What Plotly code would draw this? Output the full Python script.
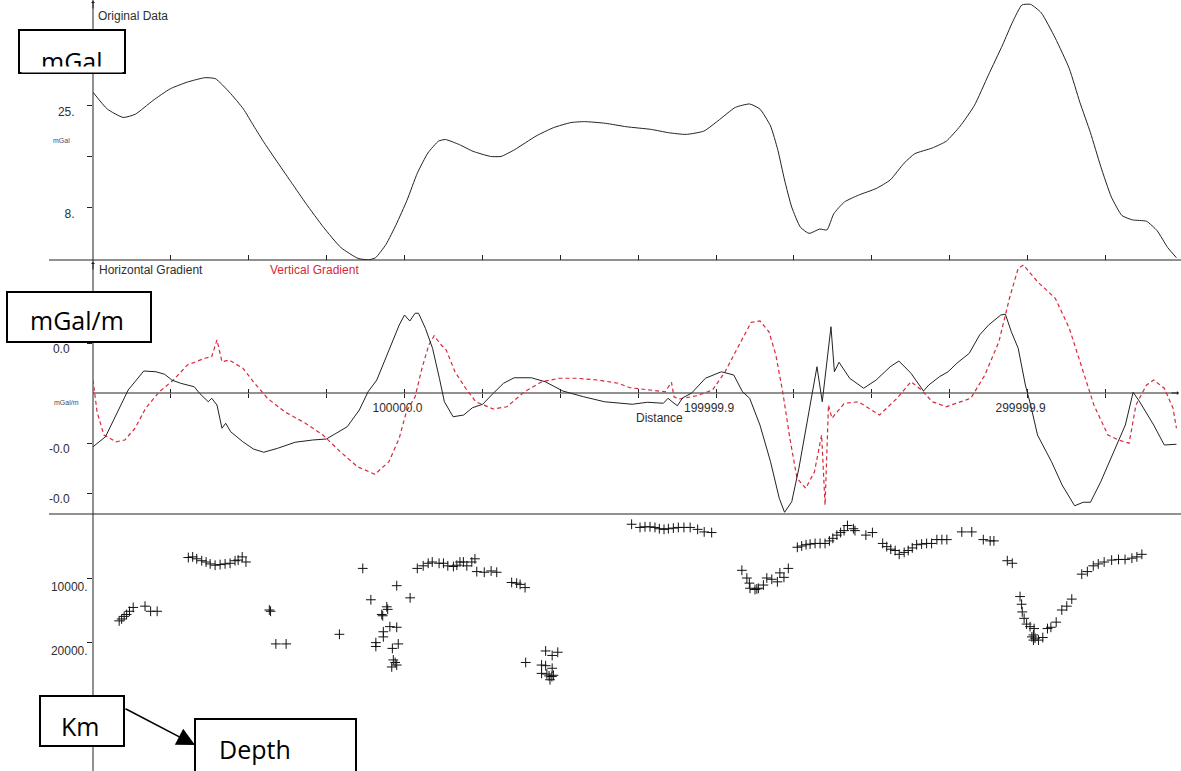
import plotly.graph_objects as go

W, H = 1181, 771

# ---------------- data ----------------
# Original Bouguer profile (mGal) along the line (distance in m)
dist_orig = [0, 4600, 9700, 13600, 19200, 24800, 30300, 35900, 39300, 43800,
             48300, 51600, 55000, 59400, 63900, 68400, 74000, 79600, 85100, 88500,
             90700, 94100, 97400, 100800, 104100, 107500, 110900, 113100, 117600, 122000,
             127600, 131000, 135400, 142200, 147800, 153400, 157800, 164500, 171200, 179200,
             184800, 190400, 196100, 200600, 206200, 210800, 214100, 217500, 219800, 222000,
             224300, 227100, 229900, 233300, 235600, 237800, 241200, 245700, 251400, 255900,
             260400, 263800, 269400, 273900, 278400, 282900, 287400, 292000, 295300, 298200,
             301000, 304400, 308900, 313400, 316800, 320200, 323500, 326900, 330300, 333700,
             338200, 341600, 345000, 347800]
grav_orig = [27.13, 24.32, 22.92, 23.47, 25.73, 27.70, 28.82, 29.55, 29.38, 27.13,
             24.32, 21.50, 18.68, 15.32, 11.93, 8.55, 4.62, 1.23, -0.57, -0.80,
             -0.45, 1.80, 5.17, 9.12, 13.62, 17.00, 18.97, 19.25, 18.40, 17.28,
             16.43, 16.43, 17.57, 19.82, 21.22, 22.07, 22.23, 21.95, 21.38, 20.93,
             20.38, 20.10, 20.65, 22.35, 24.60, 25.17, 24.32, 21.50, 17.57, 12.50,
             7.98, 4.62, 3.60, 4.33, 4.17, 6.87, 8.83, 9.97, 11.08, 12.50,
             15.32, 16.88, 17.83, 18.97, 21.50, 24.88, 29.95, 35.02, 38.95, 41.67,
             41.77, 40.37, 36.15, 31.08, 25.45, 20.38, 14.75, 9.68, 6.58, 5.85,
             5.62, 4.05, 1.23, -0.45]

# Horizontal gradient (mGal/m)
dist_hg = [0, 4000, 7400, 11300, 16300, 20200, 23000, 25300, 28100, 32500,
           34200, 37000, 38100, 39800, 41400, 42600, 44200, 48100, 51500, 54800,
           59300, 64900, 70500, 74900, 77100, 81600, 85500, 88300, 91100, 94400,
           98300, 100000, 101700, 103400, 104500, 106700, 109000, 111200, 112800, 115600,
           119000, 121800, 125100, 128500, 131800, 135200, 140700, 145200, 150800, 157500,
           164200, 173100, 178000, 183100, 184600, 185900, 187600, 189300, 192100, 196600,
           201700, 205700, 208500, 210800, 214100, 217500, 220300, 222000, 224300, 226600,
           230500, 232400, 234100, 236900, 238000, 239500, 242900, 247400, 251400, 255900,
           258700, 262600, 266600, 268300, 271700, 274500, 277300, 281300, 284600, 287500,
           291400, 292900, 294800, 297000, 299300, 301000, 303200, 307700, 311100, 315100,
           317900, 320200, 323500, 328100, 331400, 333900, 336000, 340500, 343900, 347800]
hgrad = [-0.0215, -0.0175, -0.0088, 0.0012, 0.0088, 0.0085, 0.0075, 0.0052, 0.0039, 0.0025,
         -0.0001, -0.0035, -0.0021, -0.0048, -0.0141, -0.0121, -0.0155, -0.0195, -0.0224, -0.0237,
         -0.0221, -0.0197, -0.0188, -0.0184, -0.0168, -0.0135, -0.0068, 0.0005, 0.0052, 0.0152,
         0.0272, 0.0312, 0.0288, 0.0319, 0.0319, 0.0259, 0.0179, 0.0059, -0.0035, -0.0095,
         -0.0088, -0.0059, -0.0045, -0.0001, 0.0039, 0.0061, 0.0061, 0.0045, 0.0008, -0.0015,
         -0.0035, -0.0045, -0.0037, -0.0041, -0.0021, -0.0035, -0.0051, -0.0019, -0.0001, 0.0059,
         0.0085, 0.0072, 0.0005, -0.0021, -0.0128, -0.0275, -0.0421, -0.0477, -0.0435, -0.0301,
         -0.0021, 0.0105, -0.0035, 0.0265, 0.0085, 0.0123, 0.0059, 0.0019, 0.0052, 0.0105,
         0.0128, 0.0079, 0.0008, 0.0032, 0.0065, 0.0085, 0.0119, 0.0159, 0.0232, 0.0272,
         0.0312, 0.0315, 0.0245, 0.0179, 0.0032, -0.0048, -0.0168, -0.0275, -0.0368, -0.0451,
         -0.0437, -0.0437, -0.0355, -0.0221, -0.0128, 0.0003, -0.0035, -0.0128, -0.0208, -0.0205]

# Vertical gradient (mGal/m)
dist_vg = [0, 400, 1300, 3500, 7400, 10200, 13500, 16900, 21300, 25800,
           30300, 35900, 38100, 39800, 41400, 43700, 48100, 51500, 56000, 61500,
           68200, 73800, 79400, 84900, 90500, 95000, 98300, 100600, 103400, 105600,
           107800, 109500, 111800, 113400, 116200, 119600, 122900, 128500, 132900, 138500,
           144100, 149700, 155300, 162000, 168600, 172400, 179200, 183700, 185700, 186500,
           188200, 193800, 198900, 202900, 207400, 211300, 214100, 217000, 219200, 221400,
           223700, 226000, 228800, 231600, 233900, 235000, 236100, 237200, 241200, 245700,
           252500, 258100, 262600, 266000, 269400, 273900, 281800, 286300, 290800, 294200,
           297000, 298700, 303200, 308900, 313400, 317900, 321300, 325800, 329200, 332600,
           334800, 338200, 340500, 343900, 346700, 347800]
vgrad = [0.0052, 0.0005, -0.0075, -0.0168, -0.0195, -0.0188, -0.0141, -0.0061, 0.0005, 0.0052,
         0.0112, 0.0139, 0.0145, 0.0212, 0.0125, 0.0132, 0.0099, 0.0045, -0.0021, -0.0075,
         -0.0121, -0.0168, -0.0235, -0.0295, -0.0325, -0.0275, -0.0181, -0.0075, -0.0015, 0.0099,
         0.0192, 0.0229, 0.0192, 0.0172, 0.0085, 0.0019, -0.0035, -0.0064, -0.0055, 0.0005,
         0.0045, 0.0059, 0.0059, 0.0052, 0.0039, 0.0021, 0.0012, 0.0005, 0.0043, -0.0015,
         -0.0024, -0.0011, 0.0012, 0.0085, 0.0192, 0.0283, 0.0288, 0.0245, 0.0152, 0.0005,
         -0.0181, -0.0341, -0.0381, -0.0315, -0.0168, -0.0448, -0.0048, -0.0101, -0.0041, -0.0035,
         -0.0088, -0.0021, 0.0045, 0.0012, -0.0035, -0.0055, -0.0021, 0.0072, 0.0205, 0.0379,
         0.0499, 0.0512, 0.0445, 0.0379, 0.0259, 0.0085, -0.0048, -0.0168, -0.0188, -0.0201,
         -0.0048, 0.0032, 0.0052, 0.0019, -0.0061, -0.0141]

# Estimated source depths (m) along the profile
dist_src = [8400, 9200, 10000, 10800, 11700, 12900, 16700, 18500, 20600,
            30600, 32000, 33300, 34900, 36300, 37600, 39200, 40800, 42400, 44000, 45600, 46600, 47900, 49100,
            56600, 57000, 58700, 62000, 79100, 86600, 89200, 97500, 94300, 94600, 92700, 93000, 95300,
            97500, 93200, 93200, 90800, 90800, 96100, 98000, 96400, 97000, 95900, 97500, 101800,
            104100, 106000, 107600, 108900, 111100, 112500, 113900, 115700, 116800, 117800, 118900,
            120000, 121600, 122600, 123200, 125600, 127800, 129600, 134400, 136000, 137100, 138700,
            138900, 145300, 147400, 149200, 144000, 145300, 147400, 144000, 145700, 146400, 147300,
            147800, 146700,
            172900, 175600, 177200, 178800, 180400, 181800, 183300, 184700, 186300, 187900, 189700,
            191700, 194100, 196200, 198600,
            208300, 209900, 210700, 210900, 212500, 213100, 213600, 215200, 216300, 217900, 219700,
            220500, 221800, 223200,
            226100, 227500, 228900, 230200, 231800, 233400, 235000, 236400, 237500, 238800, 240000,
            241100, 242200, 244100, 244600, 248100, 250200,
            253500, 254800, 256100, 257500, 258800, 260400, 261700, 263000, 264400, 266000, 267600,
            269200, 270900, 272500, 274100, 278900, 282100, 285800, 288000, 289200, 293500, 295100,
            297600, 298100, 298300, 298900, 299700, 300800, 302100, 301900, 301400, 302400, 301900,
            303500, 304900, 306400, 307500, 309200, 311000, 312600, 314200,
            317400, 319200, 321100, 322700, 324600, 327000, 329200, 331300, 333500, 335100, 336700]
depth_src = [16700, 16400, 16000, 15700, 15200, 14600, 14400, 15200, 15200,
             6800, 6700, 7000, 7300, 7500, 7800, 8000, 7900, 7800, 7700, 7300, 7200, 6700, 7500,
             15000, 15200, 20300, 20300, 18800, 8500, 13400, 11200, 14500, 14900, 15700, 15900, 17600,
             17700, 18400, 19200, 20100, 20700, 21000, 20300, 22800, 23200, 23900, 23600, 13100,
             8500, 8100, 7700, 7500, 7700, 7700, 8100, 8200, 8000, 7500, 7500,
             8100, 7500, 7000, 9000, 9100, 8900, 9100, 10700, 10800, 11000, 11500,
             23200, 21400, 22100, 21600, 23600, 23700, 24100, 24900, 25000, 25300, 25400,
             25200, 25900,
             1600, 2100, 2000, 2000, 2100, 2300, 2400, 2300, 2200, 2100, 2100,
             2100, 2400, 2800, 2900,
             8800, 10000, 10800, 11600, 11800, 11700, 11600, 11100, 10000, 10200, 10600,
             9200, 9900, 8500,
             5200, 5000, 4800, 4700, 4600, 4600, 4600, 4200, 3800, 3300, 2900,
             2600, 1800, 2300, 2600, 3300, 2900,
             4600, 5100, 5500, 5700, 6300, 6000, 5700, 5300, 4800, 4700, 4600,
             4600, 4000, 4000, 4000, 2800, 2800, 4000, 4200, 4200, 7300, 7700,
             12900, 14100, 15300, 16300, 17200, 17600, 17900, 18900, 19200, 19400, 19700,
             19700, 19300, 17900, 17700, 16900, 15000, 14400, 13300,
             9400, 9000, 8100, 7800, 7500, 7200, 7100, 7100, 6900, 6700, 6300]

# axis ticks
dist_ticks = [25000, 50000, 75000, 100000, 125000, 150000, 175000, 200000,
              225000, 250000, 275000, 300000, 325000]
dist_ticktext = ['', '', '', '100000.0', '', '', '', '199999.9',
                 '', '', '', '299999.9', '']
orig_ticks = [8, 16.5, 25]
orig_ticktext = ['8.', '', '25.']
grad_ticks = [0.02, -0.02, -0.04]
grad_ticktext = ['0.0', '-0.0', '-0.0']
depth_ticks = [10000, 20000]
depth_ticktext = ['10000.', '20000.']

assert len(dist_orig) == len(grav_orig)
assert len(dist_hg) == len(hgrad)
assert len(dist_vg) == len(vgrad)
assert len(dist_src) == len(depth_src)

# ---------------- helpers for page placement ----------------
def fx(p):
    return p / W


def fy(p):
    return 1 - p / H


INK = '#222222'
TXT = '#2e2e2e'
RED = '#d8283a'
SMALL = dict(family='Liberation Sans, Arial, sans-serif', size=12, color=TXT)
BIG = dict(family='Open Sans, sans-serif', size=25, color='black')

X_RANGE = [0, 348300]
X_DOM = [fx(93), fx(1178)]

fig = go.Figure()

fig.add_trace(go.Scatter(
    x=dist_orig, y=grav_orig, mode='lines', xaxis='x', yaxis='y',
    line=dict(color=INK, width=1, shape='spline', smoothing=0.5),
    hoverinfo='skip'))
fig.add_trace(go.Scatter(
    x=dist_vg, y=vgrad, mode='lines', xaxis='x2', yaxis='y2',
    line=dict(color=RED, width=1.2, dash='4px,3px'), hoverinfo='skip'))
fig.add_trace(go.Scatter(
    x=dist_hg, y=hgrad, mode='lines', xaxis='x2', yaxis='y2',
    line=dict(color=INK, width=1), hoverinfo='skip'))
fig.add_trace(go.Scatter(
    x=dist_src, y=depth_src, mode='markers', xaxis='x3', yaxis='y3',
    marker=dict(symbol='cross-thin', size=7, line=dict(width=1, color='#111111')),
    hoverinfo='skip'))
# companion axis giving the distance axis its upward tick halves
fig.add_trace(go.Scatter(x=[None], y=[None], xaxis='x4', yaxis='y2', hoverinfo='skip'))

base_x = dict(domain=X_DOM, range=X_RANGE, showgrid=False, zeroline=False,
              showline=False, fixedrange=True)
base_y = dict(showgrid=False, zeroline=False, showline=False, fixedrange=True,
              tickmode='array', ticks='outside', ticklen=5, tickcolor=INK,
              tickfont=SMALL)

zero_pos = fy(393)

fig.update_layout(
    width=W, height=H,
    margin=dict(l=0, r=0, t=0, b=0),
    paper_bgcolor='white', plot_bgcolor='rgba(0,0,0,0)',
    showlegend=False, hovermode=False,
    xaxis=dict(base_x, anchor='y', tickmode='array', tickvals=dist_ticks,
               ticks='inside', ticklen=5, tickcolor=INK, showticklabels=False),
    xaxis2=dict(base_x, anchor='free', position=zero_pos, tickmode='array',
                tickvals=dist_ticks, ticktext=dist_ticktext, ticks='outside',
                ticklen=4, tickcolor=INK, tickfont=SMALL, ticklabelshift=-7),
    xaxis4=dict(base_x, anchor='free', position=zero_pos, overlaying='x2',
                side='top', tickmode='array', tickvals=dist_ticks, ticks='outside',
                ticklen=4, tickcolor=INK, showticklabels=False),
    xaxis3=dict(base_x, anchor='y3', visible=False),
    yaxis=dict(base_y, domain=[fy(260), 1], range=[-0.8333, 42.5], anchor='x',
               tickvals=orig_ticks, ticktext=orig_ticktext,
               ticklabelstandoff=10, ticklabelshift=7),
    yaxis2=dict(base_y, domain=[fy(514), fy(260)], range=[-0.0484, 0.0532],
                anchor='x2', tickvals=grad_ticks, ticktext=grad_ticktext,
                ticklabelstandoff=15, ticklabelshift=6),
    yaxis3=dict(base_y, domain=[0, fy(514)], range=[40156, 0], anchor='x3',
                tickvals=depth_ticks, ticktext=depth_ticktext,
                ticklabelstandoff=-3, ticklabelshift=-9),
)

# frame lines of the three panels
line_style = dict(color=INK, width=1)
frame = [
    (93, 0, 93, 771),
    (49, 260, 1181, 260),
    (93, 393, 1178, 393),
    (49, 514, 1181, 514),
]
for x0, y0, x1, y1 in frame:
    fig.add_shape(type='line', xref='paper', yref='paper', layer='below',
                  x0=fx(x0), y0=fy(y0), x1=fx(x1), y1=fy(y1), line=line_style)

# callout boxes
boxes = [
    (19, 30, 125, 73),
    (7, 292, 151, 342),
    (40, 696, 124, 746),
    (195, 719, 356, 800),
]
for x0, y0, x1, y1 in boxes:
    fig.add_shape(type='rect', xref='paper', yref='paper', layer='above',
                  x0=fx(x0), y0=fy(y0), x1=fx(x1), y1=fy(y1),
                  fillcolor='white', line=dict(color='black', width=2))


def label(text, x, y, font, xanchor='left', **kw):
    fig.add_annotation(text=text, x=fx(x), y=fy(y), xref='paper', yref='paper',
                       xanchor=xanchor, yanchor='middle', showarrow=False,
                       font=font, **kw)


label('mGal', 71.5, 61, BIG, xanchor='center')
# the lower edge of the box text is cut off by the text frame
fig.add_annotation(text=' ', x=fx(72), y=fy(69), xref='paper', yref='paper',
                   xanchor='center', yanchor='middle', showarrow=False,
                   width=100, height=5, bgcolor='white', borderpad=0,
                   font=dict(size=2))
label('mGal/m', 77, 320, BIG, xanchor='center')
label('Km', 80, 726, BIG, xanchor='center')
label('Depth', 217, 749, BIG)

fig.add_annotation(x=fx(195), y=fy(745), xref='paper', yref='paper', text='',
                   showarrow=True, ax=-71, ay=-37, arrowhead=2, arrowsize=2.4,
                   arrowwidth=1.5, arrowcolor='black', standoff=0)

label('Original Data', 96, 16, SMALL)
label('Horizontal Gradient', 97, 270, SMALL)
label('Vertical Gradient', 268, 270, dict(SMALL, color=RED))
label('Distance', 660, 418, SMALL, xanchor='center')
TINY = dict(family='Liberation Sans, Arial, sans-serif', size=7, color='#4a4a66')
label('mGal', 51, 140, TINY)
label('mGal/m', 52, 402, TINY)

# axis arrow tips
for (x, y, ax, ay) in [(93, 1, 0, 9), (93, 262, 0, 9), (1179, 393, -9, 0)]:
    fig.add_annotation(x=fx(x), y=fy(y), xref='paper', yref='paper', text='',
                       showarrow=True, ax=ax, ay=ay, arrowhead=1, arrowsize=0.7,
                       arrowwidth=1, arrowcolor=INK, standoff=0)

fig.write_html('out.html', config={'displayModeBar': False})
